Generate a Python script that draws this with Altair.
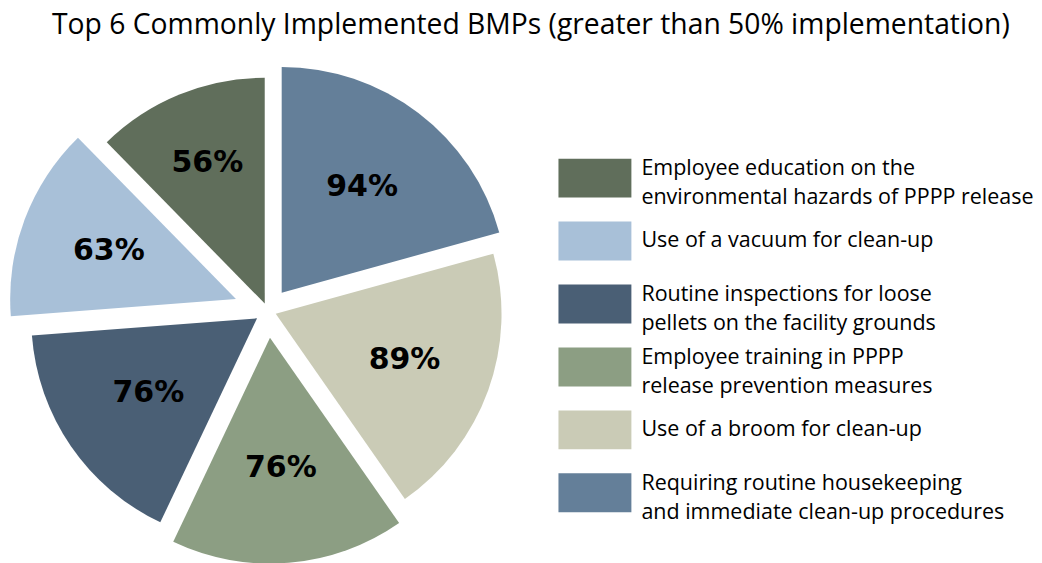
import math
import altair as alt
import pandas as pd

# slices in clockwise order from 12 o'clock
labels = [
    "Requiring routine housekeeping\nand immediate clean-up procedures",
    "Use of a broom for clean-up",
    "Employee training in PPPP\nrelease prevention measures",
    "Routine inspections for loose\npellets on the facility grounds",
    "Use of a vacuum for clean-up",
    "Employee education on the\nenvironmental hazards of PPPP release",
]
values = [94, 89, 76, 76, 63, 56]
colors = ["#647f99", "#cacbb6", "#8c9e83", "#4a5f75", "#a8c0d8", "#606e5b"]

# style: how far each slice is pulled out of the pie (px) and where its label sits
explode = [23, 8.5, 27, 13, 34, 8]
label_r = [133, 137, 131, 132, 136, 152]
OUTER_R = 226

total = sum(values)
df = pd.DataFrame({
    "label": labels,
    "value": values,
    "order": list(range(len(values))),
    "pct": [f"{v}%" for v in values],
})

theta_scale = alt.Scale(domain=[0, total])
color_scale = alt.Scale(domain=labels, range=colors)

base = alt.Chart(df).transform_window(
    cum="sum(value)", sort=[alt.SortField("order")]
).transform_calculate(
    start="datum.cum - datum.value",
    mid="datum.cum - datum.value / 2",
)

layers = []
cum = 0
for i, v in enumerate(values):
    a = (cum + v / 2) / total * 2 * math.pi
    cum += v
    dx = explode[i] * math.sin(a)
    dy = -explode[i] * math.cos(a)
    sl = base.transform_filter(f"datum.order == {i}")
    layers.append(
        sl.mark_arc(outerRadius=OUTER_R, xOffset=dx, yOffset=dy, stroke=None).encode(
            theta=alt.Theta("start:Q", scale=theta_scale, stack=False),
            theta2="cum:Q",
            color=alt.Color("label:N", scale=color_scale, legend=None),
        )
    )
    layers.append(
        sl.mark_text(
            radius=label_r[i], xOffset=dx, yOffset=dy,
            font="DejaVu Sans", fontWeight="bold", fontSize=30, color="black",
        ).encode(
            theta=alt.Theta("mid:Q", scale=theta_scale, stack=False),
            text="pct:N",
        )
    )

pie = alt.layer(*layers).properties(width=520, height=500)

legend_order = labels[::-1]
leg_y = alt.Y("label:N", sort=legend_order,
              scale=alt.Scale(type="point", range=[117, 432], padding=0), axis=None)

swatch = alt.Chart(df).mark_point(
    shape="M-1,-0.534H1V0.534H-1Z", size=73 * 73, filled=True, opacity=1, strokeWidth=0
).encode(
    x=alt.value(36.5),
    y=leg_y,
    color=alt.Color("label:N", scale=color_scale, legend=None),
)
text_style = dict(align="left", baseline="middle", lineBreak="\n",
                  font="Open Sans", fontSize=21.5, lineHeight=29, color="black")
two_line = "indexof(datum.label, '\\n') >= 0"
leg_text2 = alt.Chart(df).transform_filter(two_line).mark_text(dy=-9, **text_style).encode(
    x=alt.value(83), y=leg_y, text="label:N",
)
leg_text1 = alt.Chart(df).transform_filter(f"!({two_line})").mark_text(**text_style).encode(
    x=alt.value(83), y=leg_y, text="label:N",
)
legend = alt.layer(swatch, leg_text2, leg_text1).properties(width=475, height=500)

chart = alt.hconcat(pie, legend, spacing=31).properties(
    title=alt.Title(
        "Top 6 Commonly Implemented BMPs (greater than 50% implementation)",
        font="Open Sans", fontSize=28.3, fontWeight="normal", color="black",
        anchor="start", dx=44, offset=21,
    ),
    padding={"top": 2, "bottom": 0, "left": 0, "right": 0},
).configure_view(stroke=None)

chart.save("out.html", embed_options={"renderer": "svg", "actions": False})
